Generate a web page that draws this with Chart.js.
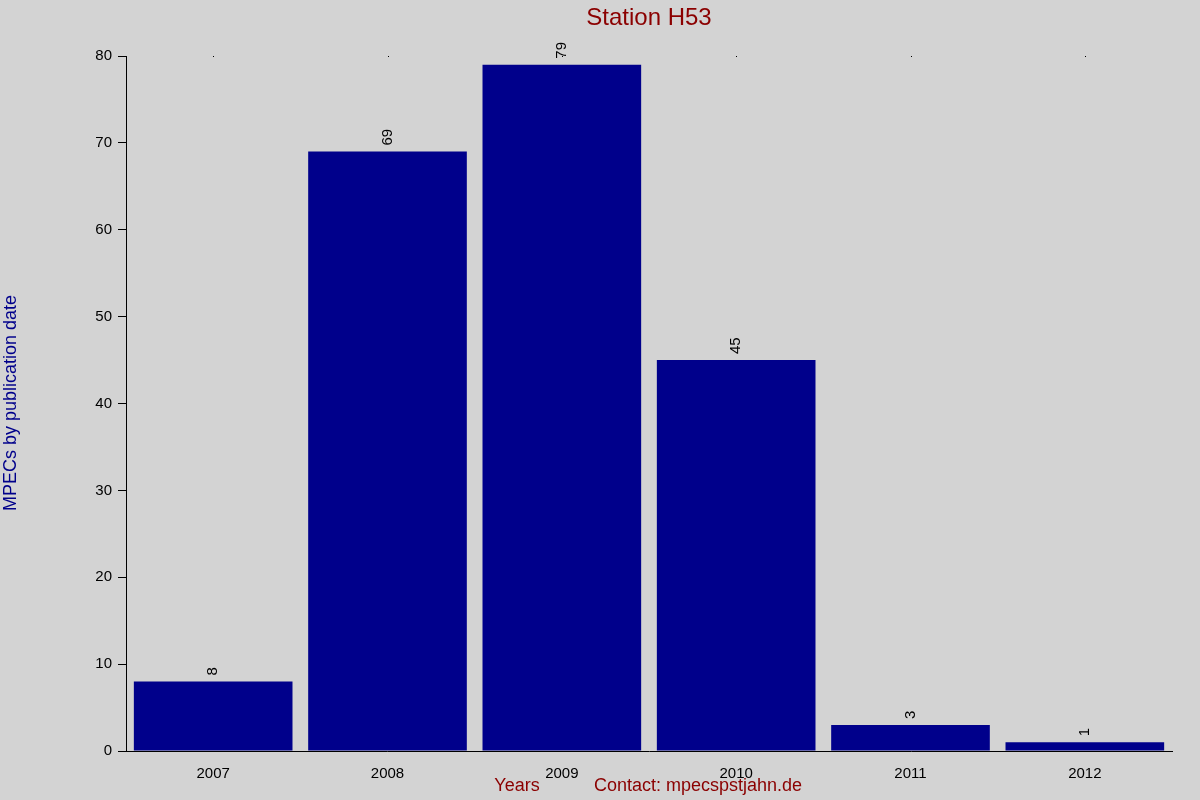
<!DOCTYPE html>
<html><head><meta charset="utf-8">
<script src="https://cdn.jsdelivr.net/npm/chart.js@4"></script>
<style>html,body{margin:0;padding:0;background:#d3d3d3}</style>
</head><body>
<canvas id="c" width="1200" height="800"></canvas>
<script>
const categories = ["2007","2008","2009","2010","2011","2012"];
const values = [8,69,79,45,3,1];
const yTicks = [0,10,20,30,40,50,60,70,80];

const FONT = "'Liberation Sans', Arial, sans-serif";
const extras = {
  id:'extras',
  beforeDraw(chart){
    const ctx=chart.ctx; ctx.save(); ctx.fillStyle='#d3d3d3'; ctx.fillRect(0,0,chart.width,chart.height); ctx.restore();
  },
  afterDraw(chart){
    const ctx=chart.ctx; ctx.save();
    ctx.fillStyle='#8b0000'; ctx.font='24px '+FONT; ctx.textAlign='center'; ctx.textBaseline='middle';
    ctx.fillText('Station H53',649,18);
    ctx.font='18px '+FONT;
    ctx.fillText('Years',517,786);
    ctx.fillText('Contact: mpecspstjahn.de',698,786);
    ctx.save(); ctx.translate(11,403); ctx.rotate(-Math.PI/2); ctx.fillStyle='#00008b'; ctx.fillText('MPECs by publication date',0,0); ctx.restore();
    // value labels
    const meta=chart.getDatasetMeta(0);
    ctx.fillStyle='#000'; ctx.font='15px '+FONT; ctx.textAlign='left';
    meta.data.forEach((b,i)=>{
      ctx.save(); ctx.translate(b.x,b.y-6); ctx.rotate(-Math.PI/2); ctx.fillText(String(values[i]),0,0); ctx.restore();
    });
    // small top tick dots
    const xs=chart.scales.x;
    ctx.fillStyle='#000';
    categories.forEach((c,i)=>{ctx.fillRect(Math.round(xs.getPixelForValue(i)),56,1,1);});
    ctx.restore();
  }
};
new Chart(document.getElementById('c'),{
  type:'bar',
  data:{labels:categories,datasets:[{data:values,backgroundColor:'#00008b',barPercentage:0.91,categoryPercentage:1}]},
  options:{
    responsive:false,animation:false,
    layout:{padding:{left:0,right:28,top:56,bottom:0}},
    plugins:{legend:{display:false},title:{display:false},tooltip:{enabled:false}},
    scales:{
      x:{grid:{display:false},border:{display:true,color:'#000'},
         ticks:{color:'#000',font:{size:15,family:FONT},padding:6,maxRotation:0},
         afterFit(s){s.height=49;}},
      y:{min:0,max:80,afterBuildTicks(s){s.ticks=yTicks.map(v=>({value:v}));},
         grid:{display:true,drawOnChartArea:false,tickLength:8,color:'#000'},
         border:{display:true,color:'#000'},
         ticks:{color:'#000',font:{size:15,family:FONT},padding:6},
         afterFit(s){s.width=126;}}
    }
  },
  plugins:[extras]
});
</script>
</body></html>
